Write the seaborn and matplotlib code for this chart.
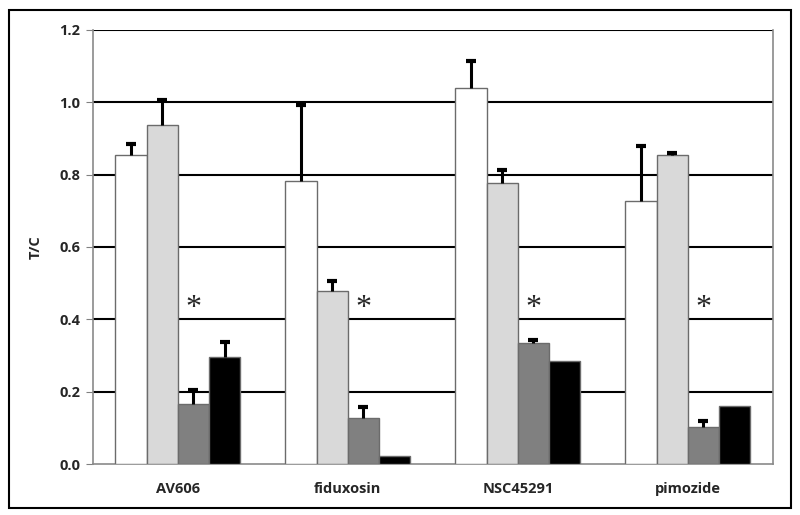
import numpy as np
import pandas as pd
import matplotlib.pyplot as plt
import seaborn as sns
from matplotlib.patches import Rectangle

# ------------------- datos
drugs = ["AV606", "fiduxosin", "NSC45291", "pimozide"]
series = ["s1", "s2", "s3", "s4"]
vals_s1 = [0.854, 0.783, 1.040, 0.727]
vals_s2 = [0.937, 0.478, 0.777, 0.855]
vals_s3 = [0.166, 0.127, 0.334, 0.101]
vals_s4 = [0.297, 0.022, 0.286, 0.161]
err_s1 = [0.031, 0.210, 0.074, 0.152]
err_s2 = [0.069, 0.029, 0.036, 0.006]
err_s3 = [0.039, 0.031, 0.008, 0.019]
err_s4 = [0.040, np.nan, np.nan, np.nan]
star_y = [0.43, 0.43, 0.43, 0.43]

colores = ["#ffffff", "#d9d9d9", "#808080", "#000000"]

vals = [vals_s1, vals_s2, vals_s3, vals_s4]
errs = [err_s1, err_s2, err_s3, err_s4]
df = pd.DataFrame({
    "drug": [d for s in series for d in drugs],
    "serie": [s for s in series for d in drugs],
    "tc": [v for vs in vals for v in vs],
})

sns.set_style("white")
plt.rcParams["font.family"] = ["Open Sans", "DejaVu Sans"]

fig = plt.figure(figsize=(8, 5.15), dpi=100)
ax = fig.add_axes([0.116, 0.099, 0.850, 0.843])

sns.barplot(data=df, x="drug", y="tc", hue="serie", hue_order=series,
            palette=colores, width=0.735, errorbar=None, legend=False,
            edgecolor="#6b6b6b", linewidth=1.0, saturation=1, ax=ax, zorder=3)

# barras de error solo hacia arriba (sin tapa inferior)
for cont, err in zip(ax.containers, errs):
    for rect, e in zip(cont.patches, err):
        if np.isnan(e):
            continue
        xc = rect.get_x() + rect.get_width() / 2
        h = rect.get_height()
        ax.vlines(xc, h, h + e, color="black", lw=2.2, zorder=4)
        ax.plot(xc, h + e, marker="_", ms=7, mew=3, color="black", zorder=4)

# asteriscos sobre la tercera serie
for rect, y in zip(ax.containers[2].patches, star_y):
    xc = rect.get_x() + rect.get_width() / 2
    ax.text(xc, y, "*", ha="center", va="center", fontsize=23,
            family="Liberation Serif", zorder=5)

ax.set_ylim(0, 1.2)
ax.set_xlim(-0.5, 3.5)
ax.set_yticks(np.arange(0, 1.21, 0.2))
ax.set_yticklabels([f"{t:.1f}" for t in np.arange(0, 1.21, 0.2)],
                   fontsize=10.5, fontweight="bold")
ax.set_xticks(range(len(drugs)))
ax.set_xticklabels(drugs, fontsize=10.5, fontweight="bold")
ax.set_xticks(np.arange(-0.5, 3.6, 1), minor=True)
ax.tick_params(axis="x", which="major", length=0, pad=13)
ax.tick_params(axis="x", which="minor", length=5, color="#808080", direction="out")
ax.tick_params(axis="y", length=5, color="#808080", direction="out", left=True, pad=4)

ax.yaxis.grid(True, color="black", lw=1.5, zorder=1)
ax.set_axisbelow(True)
ax.get_ygridlines()[0].set_visible(False)

for lado in ["left", "bottom", "right"]:
    ax.spines[lado].set_color("#8a8a8a")
    ax.spines[lado].set_linewidth(1.2)
ax.spines["top"].set_visible(False)

ax.set_xlabel("")
ax.set_ylabel("T/C", fontsize=10.5, fontweight="bold", labelpad=12)

# marco exterior
fig.patches.append(Rectangle((0.011, 0.014), 0.978, 0.966, transform=fig.transFigure,
                             fill=False, edgecolor="black", lw=1.5))

fig.savefig("out.png", dpi=100)
